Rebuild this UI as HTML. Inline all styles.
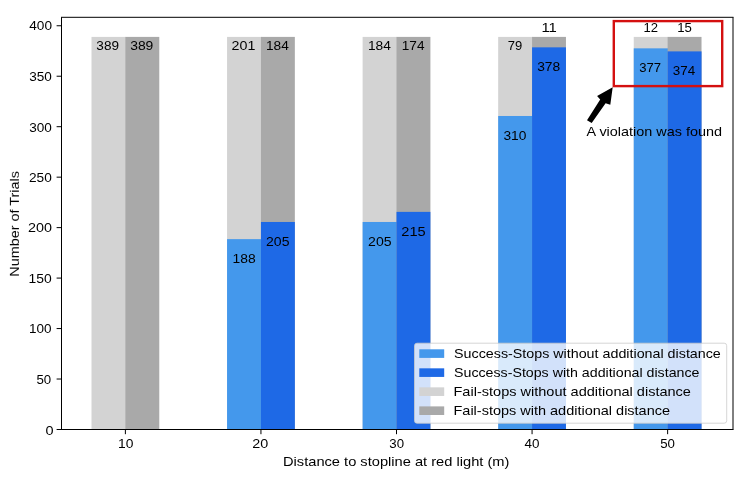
<!DOCTYPE html>
<html><head><meta charset="utf-8"><style>
html,body{margin:0;padding:0;background:#fff;overflow:hidden;}
svg{display:block;}
text{font-family:"Liberation Sans",sans-serif;font-size:13.0px;fill:#000;will-change:transform;}

</style></head><body>
<svg width="749" height="477" viewBox="0 0 749 477">
<rect width="749" height="477" fill="#fff"/>
<g class="shp">
<rect x="91.50" y="36.90" width="34.49" height="392.60" fill="#D3D3D3"/>
<rect x="125.39" y="36.90" width="33.89" height="392.60" fill="#A9A9A9"/>
<rect x="227.06" y="36.90" width="34.49" height="392.60" fill="#D3D3D3"/>
<rect x="227.06" y="239.14" width="34.49" height="190.36" fill="#4498EC"/>
<rect x="260.95" y="36.90" width="33.89" height="392.60" fill="#A9A9A9"/>
<rect x="260.95" y="221.98" width="33.89" height="207.52" fill="#1E69E6"/>
<rect x="362.62" y="36.90" width="34.49" height="392.60" fill="#D3D3D3"/>
<rect x="362.62" y="221.98" width="34.49" height="207.52" fill="#4498EC"/>
<rect x="396.51" y="36.90" width="33.89" height="392.60" fill="#A9A9A9"/>
<rect x="396.51" y="211.88" width="33.89" height="217.62" fill="#1E69E6"/>
<rect x="498.18" y="36.90" width="34.49" height="392.60" fill="#D3D3D3"/>
<rect x="498.18" y="115.99" width="34.49" height="313.51" fill="#4498EC"/>
<rect x="532.07" y="36.90" width="33.89" height="392.60" fill="#A9A9A9"/>
<rect x="532.07" y="47.35" width="33.89" height="382.15" fill="#1E69E6"/>
<rect x="633.74" y="36.90" width="34.49" height="392.60" fill="#D3D3D3"/>
<rect x="633.74" y="48.36" width="34.49" height="381.14" fill="#4498EC"/>
<rect x="667.63" y="36.90" width="33.89" height="392.60" fill="#A9A9A9"/>
<rect x="667.63" y="51.39" width="33.89" height="378.11" fill="#1E69E6"/>
</g>
<g class="shp" stroke="#000" stroke-width="1" fill="none">
<line x1="61.5" y1="17.3" x2="61.5" y2="429.5"/>
<line x1="733" y1="17.3" x2="733" y2="429.5"/>
<line x1="61" y1="17.3" x2="733.5" y2="17.3"/>
<line x1="61" y1="429.5" x2="733.5" y2="429.5"/>
<line x1="56.6" y1="429.50" x2="61.5" y2="429.50"/>
<line x1="56.6" y1="379.03" x2="61.5" y2="379.03"/>
<line x1="56.6" y1="328.56" x2="61.5" y2="328.56"/>
<line x1="56.6" y1="278.09" x2="61.5" y2="278.09"/>
<line x1="56.6" y1="227.62" x2="61.5" y2="227.62"/>
<line x1="56.6" y1="177.16" x2="61.5" y2="177.16"/>
<line x1="56.6" y1="126.69" x2="61.5" y2="126.69"/>
<line x1="56.6" y1="76.22" x2="61.5" y2="76.22"/>
<line x1="56.6" y1="25.75" x2="61.5" y2="25.75"/>
<line x1="125.39" y1="429.5" x2="125.39" y2="434.2"/>
<line x1="260.95" y1="429.5" x2="260.95" y2="434.2"/>
<line x1="396.51" y1="429.5" x2="396.51" y2="434.2"/>
<line x1="532.07" y1="429.5" x2="532.07" y2="434.2"/>
<line x1="667.63" y1="429.5" x2="667.63" y2="434.2"/>
</g>
<text id="t18" x="117.95" y="448.40" textLength="15.39" lengthAdjust="spacingAndGlyphs" style="font-size:13.00px">10</text>
<text id="t19" x="252.28" y="448.40" textLength="15.98" lengthAdjust="spacingAndGlyphs" style="font-size:13.00px">20</text>
<text id="t20" x="389.30" y="448.45" textLength="14.72" lengthAdjust="spacingAndGlyphs" style="font-size:13.00px">30</text>
<text id="t21" x="524.49" y="448.30" textLength="14.93" lengthAdjust="spacingAndGlyphs" style="font-size:13.00px">40</text>
<text id="t22" x="660.17" y="448.40" textLength="14.75" lengthAdjust="spacingAndGlyphs" style="font-size:13.00px">50</text>
<text id="t23" x="45.40" y="434.80" textLength="8.06" lengthAdjust="spacingAndGlyphs" style="font-size:13.00px">0</text>
<text id="t24" x="36.47" y="383.75" textLength="14.75" lengthAdjust="spacingAndGlyphs" style="font-size:13.00px">50</text>
<text id="t25" x="29.07" y="332.90" textLength="22.56" lengthAdjust="spacingAndGlyphs" style="font-size:13.00px">100</text>
<text id="t26" x="28.64" y="282.94" textLength="23.20" lengthAdjust="spacingAndGlyphs" style="font-size:13.00px">150</text>
<text id="t27" x="27.98" y="231.60" textLength="23.98" lengthAdjust="spacingAndGlyphs" style="font-size:13.00px">200</text>
<text id="t28" x="29.01" y="182.01" textLength="22.82" lengthAdjust="spacingAndGlyphs" style="font-size:13.00px">250</text>
<text id="t29" x="29.18" y="131.54" textLength="22.65" lengthAdjust="spacingAndGlyphs" style="font-size:13.00px">300</text>
<text id="t30" x="29.18" y="81.07" textLength="22.65" lengthAdjust="spacingAndGlyphs" style="font-size:13.00px">350</text>
<text id="t31" x="29.29" y="30.40" textLength="22.75" lengthAdjust="spacingAndGlyphs" style="font-size:13.00px">400</text>
<text id="t38" x="-276.67" y="0" transform="translate(18.90,0) rotate(-90)" textLength="105.59" lengthAdjust="spacingAndGlyphs" style="font-size:13.00px">Number of Trials</text>
<text id="t32" x="283.00" y="465.50" textLength="226.41" lengthAdjust="spacingAndGlyphs" style="font-size:13.00px">Distance to stopline at red light (m)</text>
<text id="t0" x="96.38" y="50.30" textLength="22.66" lengthAdjust="spacingAndGlyphs" style="font-size:13.00px">389</text>
<text id="t1" x="130.17" y="50.30" textLength="23.19" lengthAdjust="spacingAndGlyphs" style="font-size:13.00px">389</text>
<text id="t2" x="232.64" y="262.90" textLength="23.16" lengthAdjust="spacingAndGlyphs" style="font-size:13.00px">188</text>
<text id="t3" x="231.58" y="50.40" textLength="23.81" lengthAdjust="spacingAndGlyphs" style="font-size:13.00px">201</text>
<text id="t4" x="266.09" y="245.50" textLength="23.39" lengthAdjust="spacingAndGlyphs" style="font-size:13.00px">205</text>
<text id="t5" x="265.96" y="50.40" textLength="22.84" lengthAdjust="spacingAndGlyphs" style="font-size:13.00px">184</text>
<text id="t6" x="368.09" y="245.60" textLength="23.50" lengthAdjust="spacingAndGlyphs" style="font-size:13.00px">205</text>
<text id="t7" x="367.95" y="50.40" textLength="22.95" lengthAdjust="spacingAndGlyphs" style="font-size:13.00px">184</text>
<text id="t8" x="401.27" y="235.80" textLength="24.35" lengthAdjust="spacingAndGlyphs" style="font-size:13.00px">215</text>
<text id="t9" x="401.76" y="50.40" textLength="22.74" lengthAdjust="spacingAndGlyphs" style="font-size:13.00px">174</text>
<text id="t10" x="503.48" y="140.10" textLength="22.96" lengthAdjust="spacingAndGlyphs" style="font-size:13.00px">310</text>
<text id="t11" x="507.73" y="50.40" textLength="14.48" lengthAdjust="spacingAndGlyphs" style="font-size:13.00px">79</text>
<text id="t12" x="537.17" y="71.10" textLength="23.03" lengthAdjust="spacingAndGlyphs" style="font-size:13.00px">378</text>
<text id="t13" x="541.44" y="32.40" textLength="15.43" lengthAdjust="spacingAndGlyphs" style="font-size:13.00px">11</text>
<text id="t14" x="639.20" y="71.90" textLength="21.86" lengthAdjust="spacingAndGlyphs" style="font-size:13.00px">377</text>
<text id="t15" x="643.40" y="32.20" textLength="14.55" lengthAdjust="spacingAndGlyphs" style="font-size:13.00px">12</text>
<text id="t16" x="672.79" y="74.90" textLength="22.40" lengthAdjust="spacingAndGlyphs" style="font-size:13.00px">374</text>
<text id="t17" x="677.30" y="32.20" textLength="14.66" lengthAdjust="spacingAndGlyphs" style="font-size:13.00px">15</text>
<g class="shp">
<rect x="414.5" y="343.2" width="312.2" height="80" rx="2.5" ry="2.5" fill="#fff" fill-opacity="0.8" stroke="#ccc" stroke-opacity="0.8" stroke-width="1"/>
<rect x="419.3" y="349.30" width="24.9" height="8.6" fill="#4498EC"/>
<rect x="419.3" y="368.33" width="24.9" height="8.6" fill="#1E69E6"/>
<rect x="419.3" y="387.36" width="24.9" height="8.6" fill="#D3D3D3"/>
<rect x="419.3" y="406.39" width="24.9" height="8.6" fill="#A9A9A9"/>
</g>
<text id="t34" x="454.05" y="357.80" textLength="266.78" lengthAdjust="spacingAndGlyphs" style="font-size:13.00px">Success-Stops without additional distance</text>
<text id="t35" x="454.06" y="376.83" textLength="245.38" lengthAdjust="spacingAndGlyphs" style="font-size:13.00px">Success-Stops with additional distance</text>
<text id="t36" x="453.51" y="395.86" textLength="237.44" lengthAdjust="spacingAndGlyphs" style="font-size:13.00px">Fail-stops without additional distance</text>
<text id="t37" x="453.51" y="414.89" textLength="216.53" lengthAdjust="spacingAndGlyphs" style="font-size:13.00px">Fail-stops with additional distance</text>
<rect class="shp" x="613.8" y="21.1" width="108.4" height="65.0" fill="none" stroke="#d41010" stroke-width="2.4"/>
<polygon class="shp" points="587.0,120.2 600.2,99.4 597.1,95.9 612.7,87.3 610.3,104.8 605.6,103.2 591.7,123.0" fill="#000"/>
<text id="t33" x="586.57" y="136.40" textLength="135.55" lengthAdjust="spacingAndGlyphs" style="font-size:13.00px">A violation was found</text>
</svg>
</body></html>
